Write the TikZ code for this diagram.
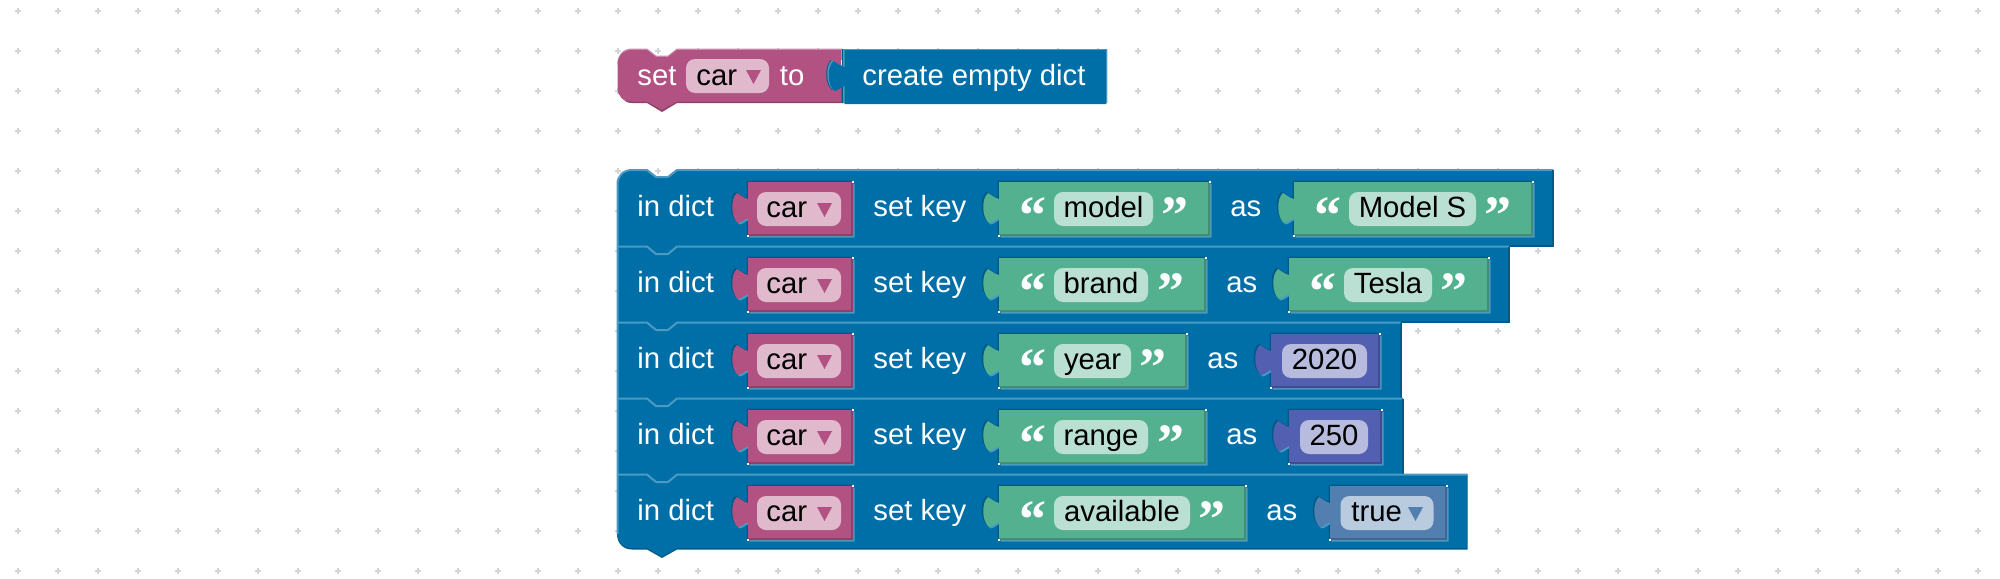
\documentclass[tikz,border=0pt]{standalone}
\usepackage{fontspec}
\setmainfont{Liberation Sans}
\newfontfamily\quotefont{Liberation Serif}[BoldFont={Liberation Serif Bold}]
\definecolor{dgrid}{HTML}{D4D4D4}
\definecolor{dblue}{HTML}{006FA8}
\definecolor{dbluehi}{HTML}{4A9AC2}
\definecolor{dbluelo}{HTML}{005A88}
\definecolor{dpink}{HTML}{B25282}
\definecolor{dpinkhi}{HTML}{CA8BAB}
\definecolor{dpinklo}{HTML}{8E4168}
\definecolor{dpinkpill}{HTML}{E0B9CD}
\definecolor{dgreen}{HTML}{53B190}
\definecolor{dgreenlo}{HTML}{428D73}
\definecolor{dgreenpill}{HTML}{BADFD3}
\definecolor{dviolet}{HTML}{535FB0}
\definecolor{dvioletlo}{HTML}{424C8D}
\definecolor{dvioletpill}{HTML}{B7BCDF}
\definecolor{dsteel}{HTML}{537FB0}
\definecolor{dsteello}{HTML}{42668D}
\definecolor{dsteelpill}{HTML}{B8CBDF}
\tikzset{
  wtext/.style={text=white,inner sep=0pt,font=\fontsize{14.65pt}{16pt}\selectfont,anchor=base west},
  ktext/.style={text=black,inner sep=0pt,font=\fontsize{14.65pt}{16pt}\selectfont,anchor=base west},
  ctext/.style={text=black,inner sep=0pt,font=\fontsize{14.65pt}{16pt}\selectfont,anchor=base},
  qtext/.style={text=white,inner sep=0pt,font=\quotefont\bfseries\fontsize{27pt}{28pt}\selectfont,anchor=base west},
  rowhi/.style={draw=dbluehi,line width=1pt,line join=round},
  rowlo/.style={draw=dbluelo,line width=1pt},
}
% tab-shaped outline: left edge x, top y, right edge x1 (height 54)
\newcommand{\tabshape}[3]{({#1},{#2}) -- ({#3},{#2}) -- ({#3},{#2+54}) -- ({#1},{#2+54}) -- ({#1},{#2+36})
  .. controls ({#1-3},{#2+37}) and ({#1-7},{#2+41}) .. ({#1-10},{#2+41})
  .. controls ({#1-17},{#2+36}) and ({#1-18},{#2+17}) .. ({#1-11},{#2+11})
  .. controls ({#1-8},{#2+13}) and ({#1-4},{#2+16}) .. ({#1},{#2+17}) -- cycle}
\newcommand{\inblk}[5]{%
  \fill[dbluelo] \tabshape{#1-1.5}{#2-1.5}{#3-1.5};
  \fill[dbluehi] \tabshape{#1+1.5}{#2+1.5}{#3+1.5};
  \fill[#4] \tabshape{#1}{#2}{#3};
  \draw[#5,line width=.9pt] ({#1},{#2+53}) -- ({#3-1},{#2+53}) -- ({#3-1},{#2});
  \fill[white] ({#3-1.5},{#2-1}) rectangle ({#3+.5},{#2+1});
  \fill[white] ({#1-1},{#2+53}) rectangle ({#1+1},{#2+55});
}
\newcommand{\pillbox}[4]{\fill[#4,rounded corners=4.5pt] ({#1},{#2+10}) rectangle ({#3},{#2+44});}
\newcommand{\ddtri}[3]{\fill[#3] ({#1},{#2+21}) -- ({#1+15},{#2+21}) -- ({#1+7.5},{#2+35}) -- cycle;}
\newcommand{\carinput}[2]{%
  \inblk{748}{#2}{853}{dpink}{dpinklo}
  \pillbox{757}{#2}{841}{dpinkpill}
  \ddtri{817}{#2}{dpink}
  \node[wtext] (indict#1) at (637,{#2+34}) {in dict};
  \node[ktext] (car#1) at (766,{#2+35}) {car};
  \node[wtext] (setkey#1) at (873,{#2+34}) {set key};
}
\newcommand{\strblock}[7]{%
  \inblk{#2}{#3}{#4}{dgreen}{dgreenlo}
  \pillbox{#2+55}{#3}{#5}{dgreenpill}
  \node[qtext] (ql#1) at ({#2+20},{#3+51.5}) {“};
  \node[qtext] (qr#1) at ({#7},{#3+51.5}) {”};
  \node[ctext] (str#1) at ({(#2+55+#5)/2},{#3+35}) {#6};
}
\begin{document}
\begin{tikzpicture}[x=0.5pt,y=-0.5pt]
\useasboundingbox (0,0) rectangle (2000,578);
\fill[white] (0,0) rectangle (2000,578);
% background grid
\foreach \gx in {0,...,49}{\foreach \gy in {0,...,14}{
  \fill[dgrid] ({17.5+40*\gx-3},{10.5+40*\gy-1}) rectangle ({17.5+40*\gx+3},{10.5+40*\gy+1});
  \fill[dgrid] ({17.5+40*\gx-1},{10.5+40*\gy-3}) rectangle ({17.5+40*\gx+1},{10.5+40*\gy+3});
}}
% ---- set car to
\fill[dpinkhi] (617.5,64) .. controls (617.5,55) and (623,48.5) .. (632,48.5) -- (647,48.5) -- (656,55.5) -- (668,55.5) -- (677,48.5) -- (842,48.5) -- (842,60) -- (620,70) -- cycle;
\fill[dpinklo] (620,80) -- (842,80) -- (842,103) -- (677,103) -- (662,112) -- (647,103) -- (632,103) .. controls (624,103) and (620,97) .. (620,90) -- cycle;
\fill[dpink] (632,50) -- (647,50) -- (656,57) -- (668,57) -- (677,50) -- (841,50) -- (841,101.5) -- (677,101.5) -- (662,110) -- (647,101.5) -- (632,101.5) .. controls (623,101.5) and (617.5,96) .. (617.5,88) -- (617.5,64) .. controls (617.5,56) and (623,50) .. (632,50) -- cycle;
\pillbox{686}{49}{769}{dpinkpill}
\ddtri{746}{49}{dpink}
\node[wtext] (set) at (637,85) {set};
\node[ktext] (carset) at (696,85) {car};
\node[wtext] (to) at (779.5,85) {to};
% create empty dict
\fill[dbluelo] \tabshape{842}{49}{1107};
\fill[dbluehi] \tabshape{843}{49}{1107};
\fill[dblue] \tabshape{844.5}{50}{1106};
\node[wtext] (create) at (862,85) {create empty dict};
% ---- stack of rows, bottom row first
\fill[dbluelo] (617,474) -- (1467.5,474) -- (1467.5,549.5) -- (677,549.5) -- (662,558) -- (647,549.5) -- (632,549.5) .. controls (623,549.5) and (617,543) .. (617,534) -- cycle;
\fill[dblue] (617.5,474) -- (1466.5,474) -- (1466.5,548) -- (677,548) -- (662,556.5) -- (647,548) -- (632,548) .. controls (623,548) and (617.5,542) .. (617.5,534) -- cycle;
\fill[dblue] (617,398) rectangle (1402.5,474.5);
\fill[dblue] (617,322) rectangle (1400.5,398.5);
\fill[dblue] (617,246) rectangle (1509,322.5);
\fill[dblue] (632,170) -- (647,170) -- (656,177) -- (668,177) -- (677,170) -- (1553,170) -- (1553,246.5) -- (617,246.5) -- (617,184) .. controls (617,176) and (623,170) .. (632,170) -- cycle;
% row edges
\draw[rowhi] (617.5,534) -- (617.5,184) .. controls (617.5,176) and (623,170) .. (632,170) -- (647,170) -- (656,177) -- (668,177) -- (677,170) -- (1553,170);
\draw[rowlo] (1553,170) -- (1553,245.5) -- (1509,245.5);
\draw[rowhi] (617,246.5) -- (647,246.5) -- (656,254) -- (668,254) -- (677,246.5) -- (1509,246.5);
\draw[rowlo] (1509,246.5) -- (1509,321.5) -- (1400.5,321.5);
\draw[rowhi] (617,322.5) -- (647,322.5) -- (656,330) -- (668,330) -- (677,322.5) -- (1400.5,322.5);
\draw[rowlo] (1400.5,322.5) -- (1400.5,397.5);
\draw[rowhi] (617,398.5) -- (647,398.5) -- (656,406) -- (668,406) -- (677,398.5) -- (1402.5,398.5);
\draw[rowlo] (1402.5,398.5) -- (1402.5,473.5);
\draw[rowhi] (617,474.5) -- (647,474.5) -- (656,482) -- (668,482) -- (677,474.5) -- (1467,474.5);
% row 1
\carinput{1}{182}
\strblock{1}{999}{182}{1210}{1153}{model}{1161}
\node[wtext] (as1) at (1230,216) {as};
\strblock{1v}{1294}{182}{1533}{1476}{Model S}{1484}
% row 2
\carinput{2}{258}
\strblock{2}{999}{258}{1206}{1148}{brand}{1157}
\node[wtext] (as2) at (1226,292) {as};
\strblock{2v}{1289}{258}{1489}{1432}{Tesla}{1440}
% row 3
\carinput{3}{334}
\strblock{3}{999}{334}{1187}{1131}{year}{1139}
\node[wtext] (as3) at (1207,368) {as};
\inblk{1271}{334}{1380}{dviolet}{dvioletlo}
\pillbox{1282}{334}{1367}{dvioletpill}
\node[ctext] (num3) at (1324.5,369) {2020};
% row 4
\carinput{4}{410}
\strblock{4}{999}{410}{1206}{1148}{range}{1157}
\node[wtext] (as4) at (1226,444) {as};
\inblk{1289}{410}{1382}{dviolet}{dvioletlo}
\pillbox{1300}{410}{1368}{dvioletpill}
\node[ctext] (num4) at (1334,445) {250};
% row 5
\carinput{5}{486}
\strblock{5}{999}{486}{1246}{1190}{available}{1198}
\node[wtext] (as5) at (1266,520) {as};
\inblk{1330}{486}{1447}{dsteel}{dsteello}
\pillbox{1340.5}{486}{1433.5}{dsteelpill}
\ddtri{1408}{486}{dsteel}
\node[ktext] (bool5) at (1351,521) {true};
\end{tikzpicture}
\end{document}
